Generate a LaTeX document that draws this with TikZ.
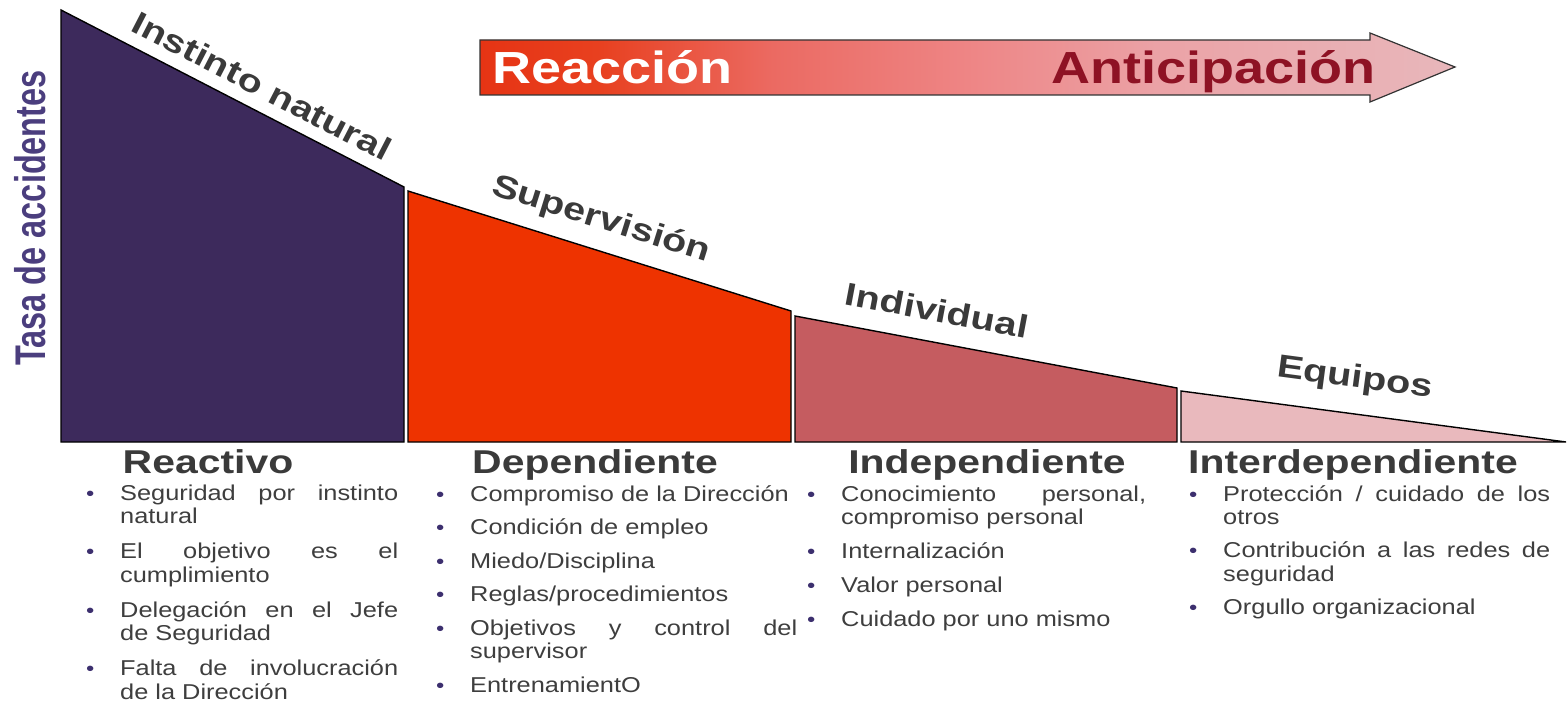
\documentclass[tikz,border=0pt]{standalone}
\usepackage{fontspec}
\setmainfont{Liberation Sans}
\newfontfamily\hdfont[FakeStretch=1.24]{Liberation Sans}
\newfontfamily\bdfont[FakeStretch=1.18]{Liberation Sans}
\newfontfamily\arfont[FakeStretch=1.2]{Liberation Sans}
\definecolor{cpurple}{HTML}{3D2A5C}
\definecolor{cred}{HTML}{EE3300}
\definecolor{cmid}{HTML}{C55C60}
\definecolor{clight}{HTML}{E9B9BD}
\definecolor{ctxt}{HTML}{3A3A3A}
\definecolor{cbody}{HTML}{3E3E3E}
\definecolor{caxis}{HTML}{4B3E7E}
\definecolor{cbul}{HTML}{3C2F6E}
\definecolor{cantic}{HTML}{8E1224}
\definecolor{sa}{HTML}{E63414}
\definecolor{sb}{HTML}{E8401F}
\definecolor{sc}{HTML}{EB6A62}
\definecolor{sd}{HTML}{EE8585}
\definecolor{se}{HTML}{EBA3A7}
\definecolor{sf}{HTML}{E8B7BB}
\pgfdeclarehorizontalshading{arrshade}{100bp}{color(0bp)=(sa); color(25bp)=(sa); color(31bp)=(sb); color(40bp)=(sc); color(50bp)=(sd); color(60bp)=(se); color(75bp)=(sf); color(100bp)=(sf)}
\newlength\tw
\newlength\ig
\newcommand\bul{\makebox[33pt][l]{\hspace*{-1pt}\textcolor{cbul}{\fontsize{20}{20}\selectfont •}}}
\newcommand\itm[1]{\par\hangindent=33pt\hangafter=1\noindent\bul#1\par}
\newcommand\jl[1]{\makebox[\tw][s]{#1}}
\newcommand\colbox[3]{\setlength\tw{#1}\setlength\ig{#2}%
  \parbox[t]{\dimexpr\tw+33pt\relax}{\raggedright\setlength\parskip{\ig}#3}}
\tikzset{
  band/.style={draw=black, line width=1.4pt, line join=miter},
  slope/.style={font=\hdfont\bfseries\fontsize{32}{32}\selectfont, text=ctxt, inner sep=0pt},
  head/.style={font=\hdfont\bfseries\fontsize{33}{33}\selectfont, text=ctxt, anchor=base, inner sep=0pt},
  col/.style={anchor=base west, inner sep=0pt, text=cbody, font=\bdfont\fontsize{21.5}{23.5}\selectfont},
}
\begin{document}
\begin{tikzpicture}[x=1pt,y=-1pt]
\useasboundingbox (0,0) rectangle (1568,703);
% bands
\fill[cpurple] (61,10) -- (404,187) -- (404,442) -- (61,442) -- cycle;
\draw[band] (61,10) -- (404,187) -- (404,442) -- (61,442) -- cycle;
\fill[cred] (408,191) -- (791,311) -- (791,442) -- (408,442) -- cycle;
\draw[band] (408,191) -- (791,311) -- (791,442) -- (408,442) -- cycle;
\fill[cmid] (795,316) -- (1177,388) -- (1177,442) -- (795,442) -- cycle;
\draw[band] (795,316) -- (1177,388) -- (1177,442) -- (795,442) -- cycle;
\fill[clight] (1181,391) -- (1566,442) -- (1181,442) -- cycle;
\draw[band] (1181,391) -- (1566,442) -- (1181,442) -- cycle;
% arrow
\path[shading=arrshade, draw=black!80, line width=1.2pt]
  (480,40) -- (1370,40) -- (1370,33) -- (1455,67) -- (1370,102) -- (1370,95) -- (480,95) -- cycle;
\node[anchor=base west, inner sep=0pt, text=white, font=\arfont\bfseries\fontsize{45}{45}\selectfont] (reac) at (492,84) {Reacción};
\node[anchor=base east, inner sep=0pt, text=cantic, font=\arfont\bfseries\fontsize{45}{45}\selectfont] (antic) at (1376,84) {Anticipación};
% axis label
\node[rotate=90, inner sep=0pt, text=caxis, font=\bfseries\fontsize{32.5}{32.5}\selectfont] (axis) at (30,218) {\scalebox{1}[1.32]{Tasa de accidentes}};
% slope labels
\node[slope, rotate=-27.3] (l1) at (262,86) {Instinto natural};
\node[slope, rotate=-17.4] (l2) at (601,220) {Supervisión};
\node[slope, rotate=-10.7] (l3) at (937,310) {Individual};
\node[slope, rotate=-7.6] (l4) at (1355,379) {Equipos};
% headings
\node[head] (h1) at (208,473) {Reactivo};
\node[head] (h2) at (595,473) {Dependiente};
\node[head] (h3) at (987,473) {Independiente};
\node[head] (h4) at (1353,473) {Interdependiente};
% columns
\node[col] (c1) at (87,500) {\colbox{278pt}{11.5pt}{%
\itm{\jl{Seguridad por instinto}\newline natural}
\itm{\jl{El objetivo es el}\newline cumplimiento}
\itm{\jl{Delegación en el Jefe}\newline de Seguridad}
\itm{\jl{Falta de involucración}\newline de la Dirección}}};
\node[col] (c2) at (437,501) {\colbox{327pt}{10pt}{%
\itm{Compromiso de la Dirección}
\itm{Condición de empleo}
\itm{Miedo/Disciplina}
\itm{Reglas/procedimientos}
\itm{\jl{Objetivos y control del}\newline supervisor}
\itm{EntrenamientO}}};
\node[col] (c3) at (808,501) {\colbox{305pt}{10.5pt}{%
\itm{\jl{Conocimiento personal,}\newline compromiso personal}
\itm{Internalización}
\itm{Valor personal}
\itm{Cuidado por uno mismo}}};
\node[col] (c4) at (1190,501) {\colbox{327pt}{9.5pt}{%
\itm{\jl{Protección / cuidado de los}\newline otros}
\itm{\jl{Contribución a las redes de}\newline seguridad}
\itm{Orgullo organizacional}}};
\end{tikzpicture}
\end{document}
